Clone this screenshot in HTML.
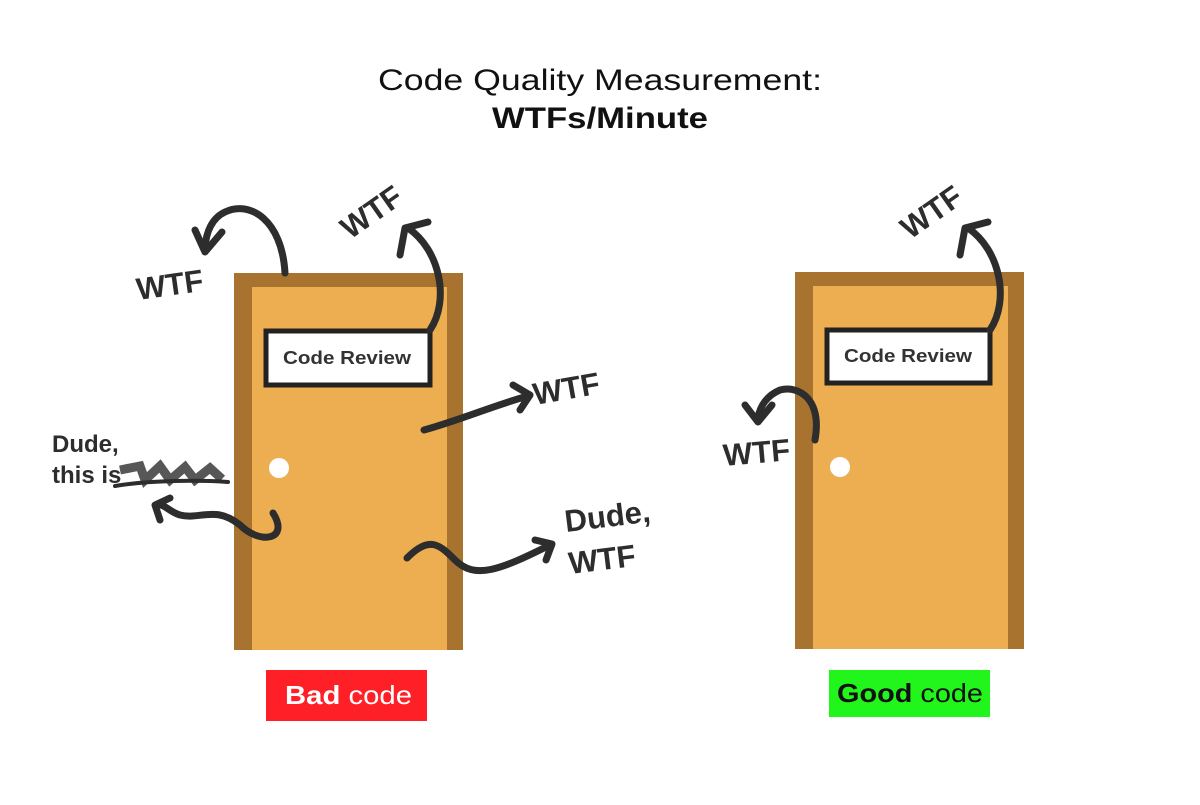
<!DOCTYPE html>
<html><head><meta charset="utf-8"><style>
body{margin:0;background:#fff;width:1200px;height:800px;overflow:hidden}
svg text{font-family:"Liberation Sans",sans-serif;}
</style></head><body>
<svg width="1200" height="800" viewBox="0 0 1200 800" xmlns="http://www.w3.org/2000/svg">
<text x="378" y="90" textLength="444" lengthAdjust="spacingAndGlyphs" font-size="30" fill="#111">Code Quality Measurement:</text>
<text x="492" y="128" textLength="216" lengthAdjust="spacingAndGlyphs" font-size="30" font-weight="bold" fill="#111">WTFs/Minute</text>

<!-- bad door -->
<rect x="234" y="273" width="229" height="377" fill="#A7732F"/>
<rect x="252" y="287" width="195" height="363" fill="#EDAD51"/>
<circle cx="279" cy="468" r="10" fill="#fff"/>
<rect x="266" y="331" width="164" height="54" fill="#fff" stroke="#222" stroke-width="5"/>
<text x="283" y="364" textLength="128" lengthAdjust="spacingAndGlyphs" font-size="18" font-weight="bold" fill="#333">Code Review</text>

<!-- good door -->
<rect x="795" y="272" width="229" height="377" fill="#A7732F"/>
<rect x="813" y="286" width="195" height="363" fill="#EDAD51"/>
<circle cx="840" cy="467" r="10" fill="#fff"/>
<rect x="827" y="330" width="163" height="53" fill="#fff" stroke="#222" stroke-width="5"/>
<text x="844" y="362" textLength="128" lengthAdjust="spacingAndGlyphs" font-size="18" font-weight="bold" fill="#333">Code Review</text>

<g fill="none" stroke="#2d2d2d" stroke-width="7" stroke-linecap="round" stroke-linejoin="round">
<path d="M285 273 C282 220 250 200 225 212 C212 218 206 232 205 248"/>
<path d="M195 230 L205 252 L222 232"/>
<path d="M430 330 C450 300 440 250 408 228"/>
<path d="M400 255 L405 228 L428 222"/>
<path d="M424 430 C460 420 495 405 528 396"/>
<path d="M513 385 L530 395 L520 410"/>
<path d="M273 513 C290 540 260 545 240 525 C215 505 200 520 180 515 C170 512 165 505 160 505"/>
<path d="M170 498 L155 505 L160 520"/>
<path d="M407 558 C430 535 440 545 455 560 C475 580 500 570 550 545"/>
<path d="M535 540 L552 544 L546 560"/>
<path d="M115 486 C150 480 200 480 228 482" stroke-width="4"/>
<path d="M990 330 C1010 300 1000 250 968 228"/>
<path d="M960 255 L965 228 L988 222"/>
<path d="M815 440 C822 400 800 385 780 390 C768 395 760 405 758 418"/>
<path d="M745 405 L758 422 L772 405"/>
</g>
<path d="M120 470 L140 466 L145 480 L160 466 L170 480 L185 467 L195 480 L210 468 L222 479" fill="none" stroke="#2d2d2d" stroke-width="9" opacity="0.8"/>

<g font-weight="bold" fill="#2d2d2d" font-size="31">
<text x="138" y="300" transform="rotate(-8 138 300)">WTF</text>
<text x="350" y="240" transform="rotate(-35 350 240)">WTF</text>
<text x="535" y="405" transform="rotate(-10 535 405)">WTF</text>
<text x="910" y="240" transform="rotate(-35 910 240)">WTF</text>
<text x="724" y="466" transform="rotate(-5 724 466)">WTF</text>
<text x="566" y="532" transform="rotate(-7 566 532)">Dude,</text>
<text x="570" y="574" transform="rotate(-7 570 574)">WTF</text>
</g>
<g font-weight="bold" fill="#2d2d2d" font-size="24">
<text x="52" y="452">Dude,</text>
<text x="52" y="483">this is</text>
</g>

<rect x="266" y="670" width="161" height="51" fill="#FF1F27"/>
<text x="285" y="704" textLength="127" lengthAdjust="spacingAndGlyphs" font-size="26" fill="#fff"><tspan font-weight="bold">Bad</tspan> code</text>
<rect x="829" y="670" width="161" height="47" fill="#22F51B"/>
<text x="837" y="702" textLength="146" lengthAdjust="spacingAndGlyphs" font-size="26" fill="#111"><tspan font-weight="bold">Good</tspan> code</text>
</svg>
</body></html>
